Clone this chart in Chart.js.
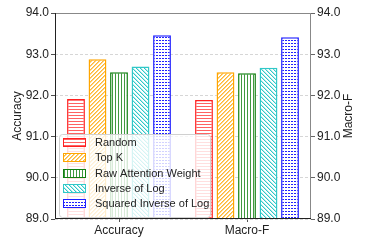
<!DOCTYPE html>
<html>
<head>
<meta charset="utf-8">
<script src="https://cdn.jsdelivr.net/npm/chart.js@4.4.1/dist/chart.umd.min.js"></script>
<style>
  html, body { margin: 0; padding: 0; background: #fff; }
  #wrap { width: 366px; height: 244px; }
</style>
</head>
<body>
<div id="wrap"><canvas id="chart" width="366" height="244"></canvas></div>
<script>
const categories = ['Accuracy', 'Macro-F'];
const seriesNames = ['Random', 'Top K', 'Raw Attention Weight', 'Inverse of Log', 'Squared Inverse of Log'];
const random = [91.91, 91.89];
const topK = [92.88, 92.56];
const rawAttention = [92.56, 92.54];
const inverseLog = [92.70, 92.67];
const squaredInverseLog = [93.46, 93.41];
const yTicks = [89, 90, 91, 92, 93, 94];

const colors = ['#ff2020', '#ffa500', '#108010', '#30c8c8', '#2020ff'];
const FONT = '"Liberation Sans", Arial, sans-serif';

function makePattern(kind, color) {
    const c = document.createElement('canvas');
    const s = kind === 'diag' || kind === 'back' ? 4 : 3;
    c.width = s; c.height = s;
    const g = c.getContext('2d');
    g.fillStyle = '#fff';
    g.fillRect(0, 0, s, s);
    g.fillStyle = color;
    if (kind === 'hor') {
        g.globalAlpha = 0.7;
        g.fillRect(0, 1, s, 1);
    } else if (kind === 'vert') {
        g.globalAlpha = 0.8;
        g.fillRect(1, 0, 1, s);
    } else if (kind === 'dots') {
        g.fillRect(0, 1, 2, 1);
    } else if (kind === 'diag') {
        // soft "/" hatch, two pixels per row
        for (let i = 0; i < s; i++) {
            g.globalAlpha = 0.8;
            g.fillRect(s - 1 - i, i, 1, 1);
            g.globalAlpha = 0.5;
            g.fillRect((s - i) % s, i, 1, 1);
        }
    } else if (kind === 'back') {
        for (let i = 0; i < s; i++) {
            g.globalAlpha = 1;
            g.fillRect(i, i, 1, 1);
            g.globalAlpha = 0.35;
            g.fillRect((i + 1) % s, i, 1, 1);
        }
    }
    return g.createPattern(c, 'repeat');
}

const ctx = document.getElementById('chart').getContext('2d');
const kinds = ['hor', 'diag', 'vert', 'back', 'dots'];
const patterns = kinds.map((k, i) => makePattern(k, colors[i]));
const values = [random, topK, rawAttention, inverseLog, squaredInverseLog];

const frameAndLegend = {
    id: 'frameAndLegend',
    afterDatasetsDraw(chart) {
        const a = chart.chartArea;
        const c = chart.ctx;
        c.save();
        // spines
        c.lineWidth = 1;
        c.strokeStyle = '#888';
        c.beginPath();
        c.moveTo(a.left, a.top + 0.5); c.lineTo(a.right, a.top + 0.5);
        c.moveTo(a.right - 0.5, a.top); c.lineTo(a.right - 0.5, a.bottom);
        c.stroke();
        c.strokeStyle = '#222';
        c.beginPath();
        c.moveTo(a.left + 0.5, a.top); c.lineTo(a.left + 0.5, a.bottom);
        c.moveTo(a.left, a.bottom - 0.5); c.lineTo(a.right, a.bottom - 0.5);
        c.stroke();

        // legend
        const lx = 59, ly = 134, lw = 151, lh = 83;
        c.beginPath();
        c.roundRect(lx + 0.5, ly + 0.5, lw, lh, 3);
        c.fillStyle = 'rgba(255,255,255,0.8)';
        c.fill();
        c.strokeStyle = '#d0d0d0';
        c.stroke();
        c.font = '11px ' + FONT;
        c.textBaseline = 'middle';
        c.textAlign = 'left';
        seriesNames.forEach((name, i) => {
            const cy = Math.round(142 + i * 15.3);
            c.fillStyle = patterns[i];
            c.fillRect(63, cy - 4, 22, 8);
            c.strokeStyle = colors[i];
            c.lineWidth = 1;
            c.strokeRect(63.5, cy - 3.5, 22, 8);
            c.fillStyle = '#222';
            c.fillText(name, 95, cy + 0.5);
        });

        // axis titles
        c.font = '12px ' + FONT;
        c.fillStyle = '#222';
        c.textAlign = 'center';
        const midY = (a.top + a.bottom) / 2;
        c.save();
        c.translate(18, midY);
        c.rotate(-Math.PI / 2);
        c.fillText('Accuracy', 0, 0);
        c.restore();
        c.save();
        c.translate(349, midY);
        c.rotate(-Math.PI / 2);
        c.fillText('Macro-F', 0, 0);
        c.restore();
        c.restore();
    }
};

const yTickOpts = {
    font: { family: FONT, size: 12 },
    color: '#222',
    padding: 2,
    callback: (v) => Number(v).toFixed(1)
};

new Chart(ctx, {
    type: 'bar',
    data: {
        labels: categories,
        datasets: seriesNames.map((name, i) => ({
            label: name,
            data: values[i],
            backgroundColor: patterns[i],
            borderColor: colors[i],
            borderWidth: 1.5,
            borderSkipped: 'bottom',
            barPercentage: 0.83,
            categoryPercentage: 0.84
        }))
    },
    options: {
        responsive: false,
        animation: false,
        layout: { padding: { top: 13, left: 0, right: 0, bottom: 0 } },
        plugins: {
            legend: { display: false },
            tooltip: { enabled: false }
        },
        scales: {
            x: {
                grid: { display: true, drawOnChartArea: false, offset: false, tickLength: 3, tickColor: '#555' },
                border: { display: false },
                ticks: { font: { family: FONT, size: 12 }, color: '#222', padding: 1 },
                afterFit: (s) => { s.height = 25; }
            },
            y: {
                position: 'left',
                min: 89, max: 94,
                afterBuildTicks: (s) => { s.ticks = yTicks.map(v => ({ value: v })); },
                grid: { color: '#cccccc', lineWidth: 0.8, tickLength: 4, tickColor: '#222', tickBorderDash: [] },
                border: { display: false, dash: [3, 2] },
                ticks: yTickOpts,
                afterFit: (s) => { s.width = 55; }
            },
            y2: {
                position: 'right',
                min: 89, max: 94,
                afterBuildTicks: (s) => { s.ticks = yTicks.map(v => ({ value: v })); },
                grid: { drawOnChartArea: false, tickLength: 4, tickColor: '#666' },
                border: { display: false },
                ticks: yTickOpts,
                afterFit: (s) => { s.width = 55; }
            }
        }
    },
    plugins: [frameAndLegend]
});
</script>
</body>
</html>
